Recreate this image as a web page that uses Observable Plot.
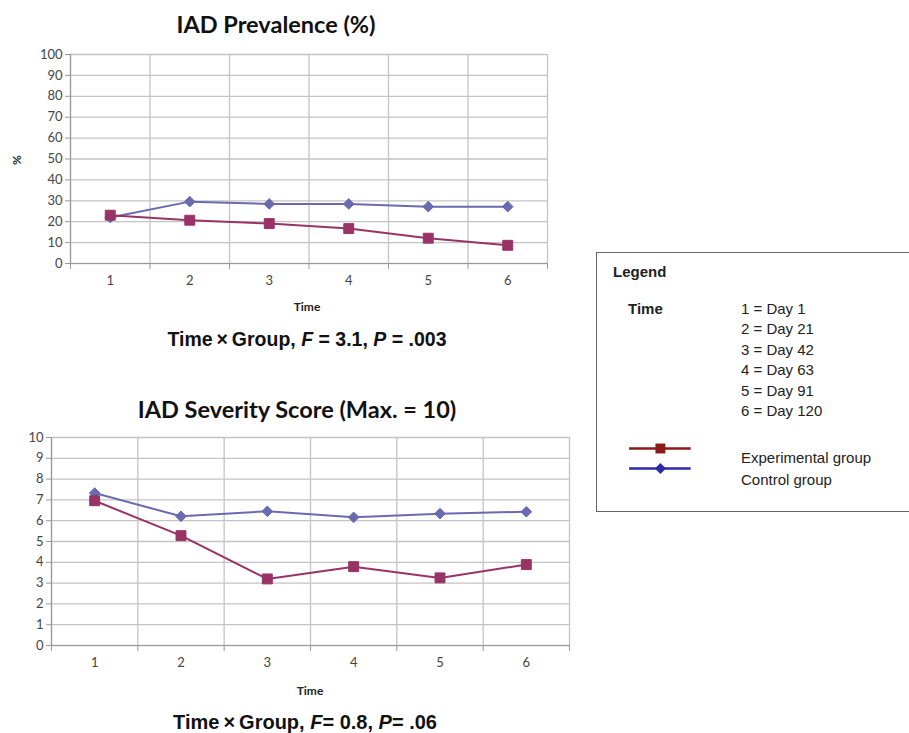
<!DOCTYPE html>
<html>
<head>
<meta charset="utf-8">
<script src="https://cdn.jsdelivr.net/npm/d3@7"></script>
<script src="https://cdn.jsdelivr.net/npm/@observablehq/plot@0.6"></script>
<style>
  html, body { margin: 0; padding: 0; background: #fff; }
  #page { position: relative; width: 909px; height: 733px; overflow: hidden; font-family: Lato, "Open Sans", sans-serif; }
  .abs { position: absolute; white-space: nowrap; transform: translate(-50%, -50%); line-height: 1; }
  .title { font-weight: bold; font-size: 23.5px; color: #111; }
  .caption { font-weight: bold; font-size: 19.5px; color: #111; font-family: "Liberation Sans", Arial, sans-serif; }
  .axt { font-weight: bold; font-size: 12px; color: #222; }
  #legend { position: absolute; left: 596px; top: 252px; width: 320px; height: 260px; border: 1.5px solid #666; box-sizing: border-box; font-family: "Liberation Sans", Arial, sans-serif; color: #222; }
  #legend .l { position: absolute; white-space: nowrap; font-size: 15px; line-height: 20.4px; }
</style>
</head>
<body>
<div id="page"></div>
<script>
// Time points and group means
const times = [1, 2, 3, 4, 5, 6];
const dayLabels = ["Day 1", "Day 21", "Day 42", "Day 63", "Day 91", "Day 120"];

const prevalenceExperimental = [23.1, 20.7, 19.1, 16.7, 12.1, 8.7];
const prevalenceControl = [22.0, 29.6, 28.5, 28.5, 27.2, 27.2];

const severityExperimental = [6.96, 5.28, 3.2, 3.79, 3.25, 3.89];
const severityControl = [7.33, 6.21, 6.45, 6.16, 6.34, 6.43];

const prevalenceTicks = d3.range(0, 101, 10);
const severityTicks = d3.range(0, 11, 1);

const groups = ["Experimental group", "Control group"];
const lineColors = {"Experimental group": "#993366", "Control group": "#6a6ab0"};
const legendColors = {"Experimental group": "#8b1a1a", "Control group": "#2b2ba6"};

const page = document.getElementById("page");

function addText(cls, html, cx, cy, extra) {
  const d = document.createElement("div");
  d.className = "abs " + cls;
  d.innerHTML = html;
  d.style.left = cx + "px";
  d.style.top = cy + "px";
  if (extra) Object.assign(d.style, extra);
  page.appendChild(d);
  return d;
}

function rows(exp, ctl) {
  return times.flatMap((t, i) => [
    {time: t, value: exp[i], group: groups[0]},
    {time: t, value: ctl[i], group: groups[1]}
  ]);
}

function panel({data, yTicks, yMax, width, height, margins}) {
  const boundaries = d3.range(0.5, 7, 1);
  const exp = data.filter(d => d.group === groups[0]);
  const ctl = data.filter(d => d.group === groups[1]);
  const tickFont = {fontSize: 13, fill: "#444"};
  return Plot.plot({
    width, height,
    marginLeft: margins[0], marginRight: margins[1], marginTop: margins[2], marginBottom: margins[3],
    style: {fontFamily: "Lato, 'Open Sans', sans-serif", overflow: "visible"},
    x: {domain: [0.5, 6.5], axis: null},
    y: {domain: [0, yMax], axis: null},
    marks: [
      // vertical grid at category boundaries
      Plot.ruleX(boundaries, {stroke: "#c4c4c4", strokeWidth: 1.3}),
      // horizontal grid
      Plot.ruleY(yTicks, {stroke: "#c4c4c4", strokeWidth: 1.3}),
      Plot.axisY({ticks: yTicks, tickSize: 5, tickPadding: 3, stroke: "#9a9a9a", label: null, ...tickFont}),
      Plot.ruleX([0.5], {stroke: "#9a9a9a", strokeWidth: 1.2}),
      Plot.ruleY([0], {stroke: "#9a9a9a", strokeWidth: 1.2}),
      Plot.axisX({ticks: boundaries, tickSize: 6, tickFormat: () => "", stroke: "#9a9a9a", label: null}),
      Plot.axisX({ticks: times, tickSize: 0, tickPadding: 12, tickFormat: d3.format("d"), label: null, ...tickFont}),
      Plot.line(ctl, {x: "time", y: "value", stroke: lineColors[groups[1]], strokeWidth: 2}),
      Plot.line(exp, {x: "time", y: "value", stroke: lineColors[groups[0]], strokeWidth: 2}),
      Plot.dot(ctl, {x: "time", y: "value", symbol: "diamond2", r: 4.8, fill: lineColors[groups[1]], stroke: lineColors[groups[1]], strokeWidth: 1}),
      Plot.dot(exp, {x: "time", y: "value", symbol: "square", r: 5.6, fill: lineColors[groups[0]], stroke: lineColors[groups[0]], strokeWidth: 1})
    ]
  });
}

// Top panel: prevalence
const prevalencePlot = panel({
  data: rows(prevalenceExperimental, prevalenceControl),
  yTicks: prevalenceTicks, yMax: 100,
  width: 600, height: 320, margins: [70, 53, 54, 57]
});
prevalencePlot.style.position = "absolute"; prevalencePlot.style.left = "0px"; prevalencePlot.style.top = "0px";
page.appendChild(prevalencePlot);

addText("title", "IAD Prevalence (%)", 276, 25);
addText("axt", "Time", 307, 307);
addText("axt", "%", 17, 160, {transform: "translate(-50%, -50%) rotate(-90deg)"});
addText("caption", "Time\u2009\u00d7\u2009Group, <i>F</i> = 3.1, <i>P</i> = .003", 307, 340);

// Bottom panel: severity score
const severityPlot = panel({
  data: rows(severityExperimental, severityControl),
  yTicks: severityTicks, yMax: 10,
  width: 600, height: 320, margins: [51, 31, 47, 65]
});
severityPlot.style.position = "absolute"; severityPlot.style.left = "0px"; severityPlot.style.top = "390px";
page.appendChild(severityPlot);

addText("title", "IAD Severity Score (Max. = 10)", 297, 410);
addText("axt", "Time", 310, 691);
addText("caption", "Time\u2009\u00d7\u2009Group, <i>F</i>= 0.8, <i>P</i>= .06", 305, 722, {fontSize: "20px"});

// Legend box
const legend = document.createElement("div");
legend.id = "legend";
page.appendChild(legend);
function lg(html, left, y, bold) {
  const d = document.createElement("div");
  d.className = "l";
  d.innerHTML = html;
  d.style.left = left + "px";
  d.style.top = y + "px";
  if (bold) d.style.fontWeight = "bold";
  legend.appendChild(d);
}
lg("Legend", 16, 9, true);
lg("Time", 31, 46, true);
times.forEach((t, i) => lg(`${t} = ${dayLabels[i]}`, 144, 46 + i * 20.4));
lg(groups[0], 144, 195);
lg(groups[1], 144, 217);

// Legend swatches drawn with the same dot/line marks
const swatchData = groups.map((g, i) => ({group: g, row: i}));
const swatch = Plot.plot({
  width: 70, height: 40, margin: 0,
  x: {domain: [0, 1], axis: null},
  y: {domain: [-0.5, 1.5], axis: null, reverse: true},
  marks: [
    Plot.ruleY(swatchData, {y: "row", x1: 0.03, x2: 0.91, stroke: d => legendColors[d.group], strokeWidth: 2.5}),
    Plot.dot(swatchData.filter(d => d.row === 0), {x: 0.47, y: "row", symbol: "square", r: 5.6, fill: d => legendColors[d.group], stroke: "none"}),
    Plot.dot(swatchData.filter(d => d.row === 1), {x: 0.47, y: "row", symbol: "diamond2", r: 5, fill: d => legendColors[d.group], stroke: "none"})
  ]
});
swatch.style.position = "absolute"; swatch.style.left = "30px"; swatch.style.top = "185px";
legend.appendChild(swatch);
</script>
</body>
</html>
